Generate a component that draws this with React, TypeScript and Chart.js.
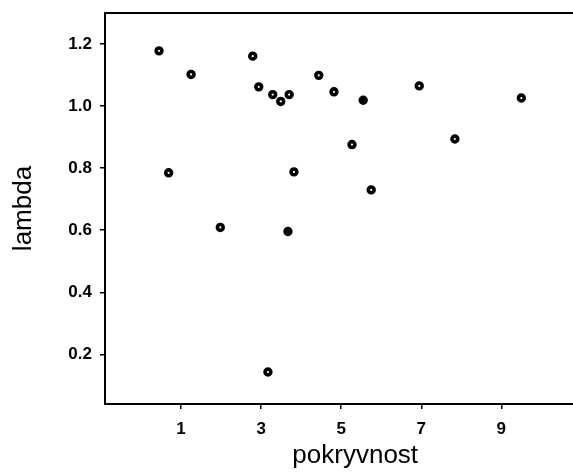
import React, { useEffect, useRef } from "react";
import { Chart, registerables } from "chart.js";

Chart.register(...registerables);

// Open-circle observations (pokryvnost, lambda)
const openX = [0.45, 0.69, 1.25, 1.98, 2.79, 2.94, 3.29, 3.49, 3.70, 3.82, 3.17, 4.44, 4.82, 5.27, 5.75, 6.95, 7.84, 9.50];
const openY = [1.178, 0.785, 1.102, 0.609, 1.161, 1.062, 1.037, 1.015, 1.037, 0.788, 0.143, 1.099, 1.046, 0.876, 0.730, 1.065, 0.894, 1.026];
// Filled-circle observations
const filledX = [3.67, 5.55];
const filledY = [0.596, 1.019];

const xTicks = [1, 3, 5, 7, 9];
const yTicks = [0.2, 0.4, 0.6, 0.8, 1.0, 1.2];
const xTitle = "pokryvnost";
const yTitle = "lambda";

const FONT = "'Liberation Sans', Arial, Helvetica, sans-serif";

export default function App() {
  const ref = useRef<HTMLCanvasElement | null>(null);
  useEffect(() => {
    if (!ref.current) return;
    const topLine = {
      id: "topLine",
      afterDraw(chart: any) {
        const { ctx, chartArea } = chart;
        ctx.save();
        ctx.strokeStyle = "#000";
        ctx.lineWidth = 2;
        ctx.beginPath();
        ctx.moveTo(chartArea.left - 1, chartArea.top);
        ctx.lineTo(chartArea.right, chartArea.top);
        ctx.stroke();
        ctx.restore();
      },
    };
    const chart = new Chart(ref.current, {
      type: "scatter",
      data: {
        datasets: [
          {
            data: openX.map((x, i) => ({ x, y: openY[i] })),
            pointRadius: 2.9,
            pointBorderWidth: 3.6,
            pointBackgroundColor: "#fff",
            pointBorderColor: "#000",
          },
          {
            data: filledX.map((x, i) => ({ x, y: filledY[i] })),
            pointRadius: 3.2,
            pointBorderWidth: 3,
            pointBackgroundColor: "#000",
            pointBorderColor: "#000",
          },
        ],
      },
      options: {
        animation: false,
        responsive: false,
        layout: { padding: { top: 13, left: 0, right: 0, bottom: 0 } },
        plugins: { legend: { display: false }, tooltip: { enabled: false } },
        scales: {
          x: {
            type: "linear",
            min: -0.9,
            max: 11.6,
            afterBuildTicks: (s: any) => {
              s.ticks = xTicks.map((v) => ({ value: v }));
            },
            afterFit: (s: any) => {
              s.height = 72;
              s.paddingLeft = 0;
              s.paddingRight = 0;
            },
            grid: { drawOnChartArea: false, drawTicks: true, tickLength: 5, color: "#000", lineWidth: 1.5 },
            border: { display: true, color: "#000", width: 2 },
            ticks: {
              color: "#000",
              padding: 10,
              font: { family: FONT, size: 17, weight: "bold" },
              callback: (v: any) => String(v),
            },
            title: {
              display: true,
              text: xTitle,
              color: "#000",
              font: { family: FONT, size: 26 },
              padding: { top: 0, bottom: 5 },
            },
          },
          y: {
            type: "linear",
            min: 0.04,
            max: 1.3,
            afterBuildTicks: (s: any) => {
              s.ticks = yTicks.map((v) => ({ value: v }));
            },
            afterFit: (s: any) => {
              s.width = 105;
              s.paddingTop = 0;
              s.paddingBottom = 0;
            },
            grid: { drawOnChartArea: false, drawTicks: true, tickLength: 5, color: "#000", lineWidth: 1.5 },
            border: { display: true, color: "#000", width: 2 },
            ticks: {
              color: "#000",
              padding: 8,
              font: { family: FONT, size: 17, weight: "bold" },
              callback: (v: any) => Number(v).toFixed(1),
            },
            title: {
              display: true,
              text: yTitle,
              color: "#000",
              font: { family: FONT, size: 26 },
              padding: { top: 8, bottom: 0 },
            },
          },
        },
      },
      plugins: [topLine],
    });
    return () => chart.destroy();
  }, []);
  return (
    <div
      style={{
        position: "fixed",
        left: 0,
        top: 0,
        width: 573,
        height: 476,
        overflow: "hidden",
        background: "#fff",
      }}
    >
      <canvas ref={ref} width={613} height={476} style={{ display: "block" }} />
    </div>
  );
}
